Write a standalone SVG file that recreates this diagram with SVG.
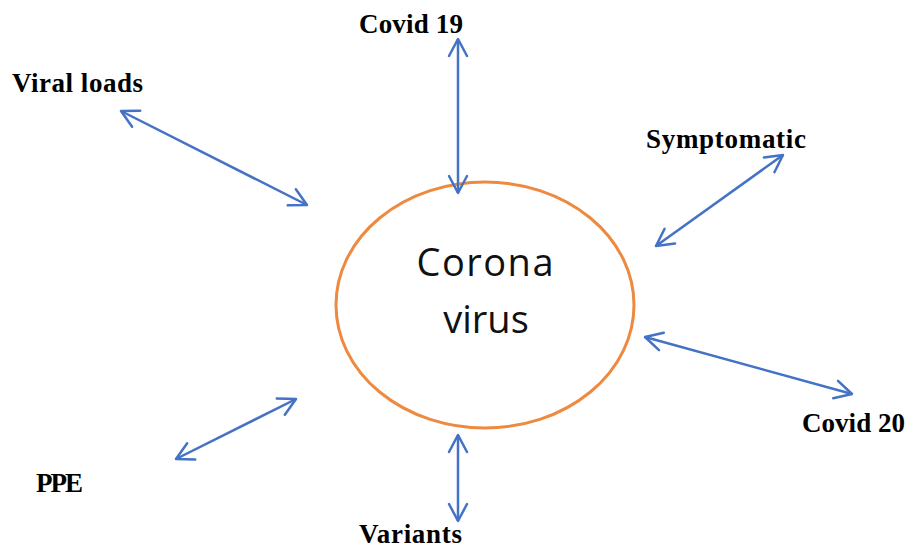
<svg xmlns="http://www.w3.org/2000/svg" width="908" height="550" viewBox="0 0 908 550">
<style>
.lbl{font-family:"Liberation Serif","DejaVu Serif",serif;font-weight:bold;font-size:27px;fill:#000}
.ctr{font-family:"Open Sans","Liberation Sans",sans-serif;font-size:38px;fill:#111;text-anchor:middle}
.conn{stroke:#4472C4;stroke-width:2.5;fill:none;marker-start:url(#ah);marker-end:url(#ah)}
</style>
<defs>
<marker id="ah" markerUnits="userSpaceOnUse" viewBox="-20 -12 24 24" refX="0" refY="0" markerWidth="24" markerHeight="24" orient="auto-start-reverse">
<path d="M-17,-9 L0,0 L-17,9" fill="none" stroke="#4472C4" stroke-width="2.5" stroke-linecap="round" stroke-linejoin="round"/>
</marker>
</defs>
<rect width="908" height="550" fill="#fff"/>
<g id="center">
<ellipse cx="485" cy="305" rx="149" ry="123" fill="#fff" stroke="#ED8A3F" stroke-width="3"/>
<text class="ctr" x="485" y="276" textLength="137">Corona</text>
<text class="ctr" x="486" y="333">virus</text>
</g>
<g id="covid19"><text class="lbl" x="359" y="33" textLength="104">Covid 19</text></g>
<g id="viralloads"><text class="lbl" x="12" y="92" textLength="131">Viral loads</text></g>
<g id="symptomatic"><text class="lbl" x="646" y="148" textLength="160">Symptomatic</text></g>
<g id="covid20"><text class="lbl" x="802" y="432" textLength="103">Covid 20</text></g>
<g id="ppe"><text class="lbl" x="36" y="492" textLength="47">PPE</text></g>
<g id="variants"><text class="lbl" x="359" y="543" textLength="103">Variants</text></g>
<g id="connectors">
<line class="conn" x1="458" y1="39" x2="458" y2="193"/>
<line class="conn" x1="121" y1="111" x2="307" y2="205"/>
<line class="conn" x1="783" y1="155" x2="656" y2="246"/>
<line class="conn" x1="645" y1="337" x2="852" y2="394"/>
<line class="conn" x1="176" y1="459" x2="296" y2="399"/>
<line class="conn" x1="458" y1="435" x2="458" y2="521"/>
</g>
</svg>
